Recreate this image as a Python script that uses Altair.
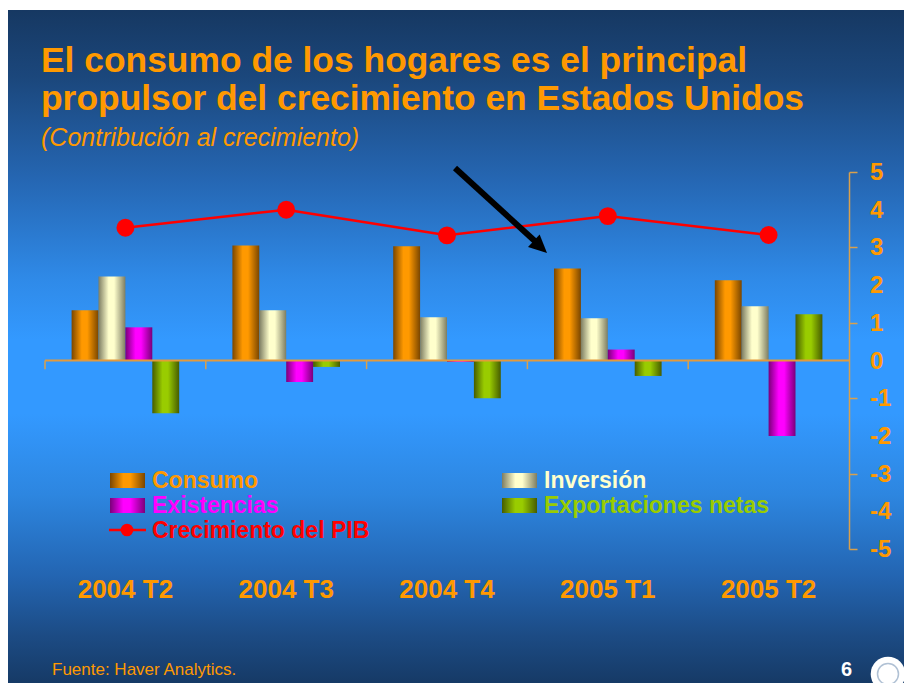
import altair as alt
import pandas as pd

# ---------------- data ----------------
periodos = ["2004 T2", "2004 T3", "2004 T4", "2005 T1", "2005 T2"]
series = ["Consumo", "Inversión", "Existencias", "Exportaciones netas"]
consumo = [1.33, 3.05, 3.03, 2.44, 2.13]
inversion = [2.23, 1.33, 1.15, 1.12, 1.44]
existencias = [0.88, -0.57, -0.04, 0.29, -2.00]
exportaciones = [-1.40, -0.17, -1.00, -0.41, 1.23]
pib = [3.52, 4.00, 3.32, 3.83, 3.33]
y_ticks = [5, 4, 3, 2, 1, 0, -1, -2, -3, -4, -5]
y_labels = ["5", "4", "3", "2", "1", "0", "-1", "-2", "-3", "-4", "-5"]

titulo = ["El consumo de los hogares es el principal",
          "propulsor del crecimiento en Estados Unidos"]
subtitulo = "(Contribución al crecimiento)"
leyenda_pib = "Crecimiento del PIB"
fuente = "Fuente: Haver Analytics."
pagina = "6"

# ---------------- styling ----------------
FONT = "Liberation Sans"
ORANGE = "#ff9900"
AXIS_C = "#d9a04c"
series_style = {
    "Consumo": ("#7a4600", "#ff9900", "#ff9900"),
    "Inversión": ("#7d7d62", "#ffffcc", "#ffffcc"),
    "Existencias": ("#7a007a", "#ff00ff", "#ff00ff"),
    "Exportaciones netas": ("#465c00", "#99cc00", "#99cc00"),
}


def cyl(dark, bright):
    return alt.Gradient(
        gradient="linear", x1=0, y1=0, x2=1, y2=0,
        stops=[alt.GradientStop(offset=0, color=dark),
               alt.GradientStop(offset=0.38, color=bright),
               alt.GradientStop(offset=0.58, color=bright),
               alt.GradientStop(offset=1, color=dark)])


bg_grad = alt.Gradient(
    gradient="linear", x1=0, y1=0, x2=0, y2=1,
    stops=[alt.GradientStop(offset=0.0, color="#163862"),
           alt.GradientStop(offset=0.10, color="#1b477c"),
           alt.GradientStop(offset=0.25, color="#2566b2"),
           alt.GradientStop(offset=0.40, color="#2f8ae8"),
           alt.GradientStop(offset=0.49, color="#3399ff"),
           alt.GradientStop(offset=0.60, color="#3399ff"),
           alt.GradientStop(offset=0.72, color="#2d86e0"),
           alt.GradientStop(offset=0.84, color="#2365b2"),
           alt.GradientStop(offset=0.93, color="#1c4b84"),
           alt.GradientStop(offset=1.0, color="#163a66")])

# ---------------- tables ----------------
valores = {"Consumo": consumo, "Inversión": inversion,
           "Existencias": existencias, "Exportaciones netas": exportaciones}
rows = []
for s in series:
    for p, v in zip(periodos, valores[s]):
        rows.append({"periodo": p, "serie": s, "valor": v})
df_bars = pd.DataFrame(rows)
df_pib = pd.DataFrame({"periodo": periodos, "pib": pib})
df_per = pd.DataFrame({"periodo": periodos})
df_yt = pd.DataFrame({"v": y_ticks, "lab": y_labels})

x_scale = alt.Scale(domain=periodos, paddingInner=0, paddingOuter=0)
y_scale = alt.Scale(domain=[-5, 5], nice=False, zero=False)
xo_scale = alt.Scale(domain=series, paddingInner=0, paddingOuter=0.989)

x_axis = alt.Axis(orient="bottom", domain=False, ticks=False, grid=False,
                  labelAngle=0, labelFont=FONT, labelFontSize=26,
                  labelFontWeight="bold", labelColor=ORANGE,
                  labelPadding=27, title=None, zindex=2)
y_axis = alt.Axis(orient="right", values=y_ticks, grid=False, title=None,
                  domainColor=AXIS_C, domainWidth=1.5, tickColor=AXIS_C,
                  tickWidth=1.5, tickSize=8, labels=False, zindex=2)


def X(field="periodo:N", **kw):
    return alt.X(field, sort=periodos, scale=x_scale, axis=x_axis, **kw)


def Y(field):
    return alt.Y(field, scale=y_scale, axis=y_axis)


one = pd.DataFrame({"k": [0]})

# background slide (page x 8..904, y 10..683)
bg = alt.Chart(one).mark_rect(color=bg_grad).encode(
    x=alt.value(-37), x2=alt.value(859), y=alt.value(-162), y2=alt.value(511))

layers = [bg]
for s in series:
    dark, bright, _ = series_style[s]
    layers.append(alt.Chart(df_bars).transform_filter(
        alt.datum.serie == s).mark_bar(color=cyl(dark, bright)).encode(
        x=X(),
        xOffset=alt.XOffset("serie:N", sort=series, scale=xo_scale),
        y=Y("valor:Q")))

zero_line = alt.Chart(one).mark_rule(color="#e39a3c", strokeWidth=2).encode(
    y=alt.datum(0))
ticks = alt.Chart(df_per).mark_rule(color=AXIS_C, strokeWidth=1.5).encode(
    x=X(bandPosition=0), y=alt.datum(0), y2=alt.datum(-0.23))

pib_line = alt.Chart(df_pib).mark_line(color="#ff0000", strokeWidth=2.5).encode(
    x=X(), y=Y("pib:Q"))
pib_pts = alt.Chart(df_pib).mark_circle(color="#ff0000", size=320, opacity=1).encode(
    x=X(), y=Y("pib:Q"))

# right-hand value labels, placed through the y scale
y_text = alt.Chart(df_yt).mark_text(
    font=FONT, fontSize=24, fontWeight="bold", color=ORANGE,
    align="left", baseline="middle", dy=1).encode(
    x=alt.value(825), y=Y("v:Q"), text="lab:N")

layers += [zero_line, ticks, pib_line, pib_pts, y_text]

# arrow annotation
arrow_shaft = alt.Chart(one).mark_rule(color="black", strokeWidth=6).encode(
    x=alt.value(410), y=alt.value(-4), x2=alt.value(492), y2=alt.value(71))
arrow_head = alt.Chart(one).mark_point(
    shape="M0,0 L0.95,2 L-0.95,2 Z", filled=True, size=324, angle=133,
    color="black", opacity=1).encode(x=alt.value(502), y=alt.value(81))
layers += [arrow_shaft, arrow_head]


def texto(t, x, y, size, color, weight="bold", style="normal", align="left"):
    return alt.Chart(pd.DataFrame({"t": [t]})).mark_text(
        font=FONT, fontSize=size, fontWeight=weight, fontStyle=style,
        color=color, align=align, baseline="alphabetic").encode(
        x=alt.value(x), y=alt.value(y), text="t:N")


layers += [
    texto(titulo[0], -4, -100, 35.4, ORANGE),
    texto(titulo[1], -4, -62, 35.4, ORANGE),
    texto(subtitulo, -4, -26, 25, ORANGE, weight="normal", style="italic"),
    texto(fuente, 7, 503, 17, ORANGE, weight="normal"),
    texto(pagina, 796, 504, 20, "white"),
]

# legend (drawn by hand, two columns)
leg_pos = {
    "Consumo": (65, 301),
    "Inversión": (457, 301),
    "Existencias": (65, 326),
    "Exportaciones netas": (457, 326),
}
for s in series:
    dark, bright, lab = series_style[s]
    lx, ly = leg_pos[s]
    layers.append(alt.Chart(one).mark_rect(color=cyl(dark, bright)).encode(
        x=alt.value(lx), x2=alt.value(lx + 35), y=alt.value(ly), y2=alt.value(ly + 15)))
    layers.append(texto(s, lx + 42, ly + 15, 23, lab))

layers.append(alt.Chart(one).mark_rule(color="#ff0000", strokeWidth=2.5).encode(
    x=alt.value(64), x2=alt.value(101), y=alt.value(358)))
layers.append(alt.Chart(one).mark_circle(color="#ff0000", size=160, opacity=1).encode(
    x=alt.value(82), y=alt.value(358)))
layers.append(texto(leyenda_pib, 107, 366, 23, "#ff0000"))

# emblem at bottom right
layers.append(alt.Chart(one).mark_circle(color="white", size=1200, opacity=1).encode(
    x=alt.value(843), y=alt.value(502)))
layers.append(alt.Chart(one).mark_circle(color="#1f4f86", size=440, opacity=0.35,
                                         filled=False, strokeWidth=1.5).encode(
    x=alt.value(843), y=alt.value(502)))

chart = alt.layer(*layers).properties(
    width=804, height=377,
    autosize=alt.AutoSizeParams(type="none"),
    padding={"left": 37, "top": 164, "right": 55, "bottom": 134},
).configure_view(stroke=None).configure(background="white")

chart.save("out.html", embed_options={"renderer": "svg", "actions": False})
